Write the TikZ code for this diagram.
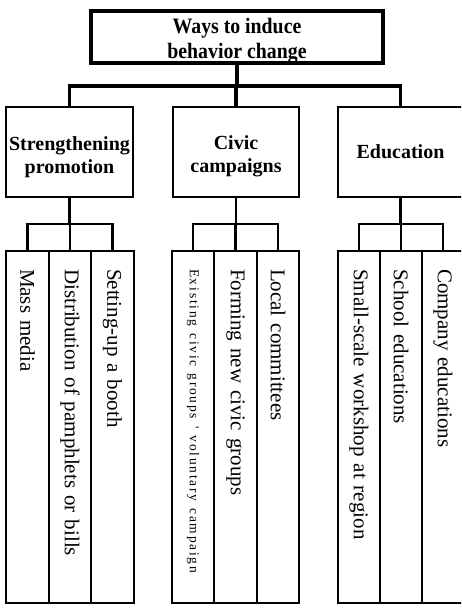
\documentclass[tikz,border=0pt]{standalone}
\usepackage{fontspec}
\setmainfont{Liberation Serif}
\newfontfamily\titlefont[FakeStretch=0.9]{Liberation Serif}
\newfontfamily\spacedfont[LetterSpace=13]{Liberation Serif}
\begin{document}
\begin{tikzpicture}[x=1pt,y=-1pt,
  topbox/.style={draw,line width=3.5pt,minimum width=292pt,minimum height=50pt,inner sep=0pt,align=center,
    font=\titlefont\bfseries\fontsize{22}{25}\selectfont},
  catbox/.style={draw,line width=2.8pt,minimum height=90pt,inner sep=0pt,align=center,
    font=\bfseries\fontsize{20}{22.5}\selectfont},
  leafbox/.style={draw,line width=2.2pt,rotate=-90,minimum width=352pt,minimum height=#1,
    inner xsep=18pt,inner ysep=0pt,text width=316pt,align=left,
    font=\fontsize{21}{24}\selectfont},
  conn/.style={line width=3.2pt},
  lconn/.style={line width=2.8pt}]
\clip (0,0) rectangle (461,611);
\fill[white] (0,0) rectangle (461,611);

\node[topbox] (top) at (237,37) {\rule{0pt}{22pt}Ways to induce\\behavior change};

\node[catbox,minimum width=127pt] (s) at (69.5,152) {\rule{0pt}{24pt}Strengthening\\promotion};
\node[catbox,minimum width=126pt] (c) at (236,152) {\rule{0pt}{22pt}Civic\\campaigns};
\node[catbox,minimum width=125pt] (e) at (400.5,152) {Education};

\coordinate (bar) at (0,86);
\draw[conn] (top.south) -- (top.south |- bar);
\draw[conn] (s.north) -- (s.north |- bar) -- (e.north |- bar) -- (e.north);
\draw[conn] (c.north) -- (c.north |- bar);

% leaves: strengthening
\node[leafbox=43pt] (s1) at (27.5,427) {Mass media};
\node[leafbox=42pt] (s2) at (70,427) {Distribution of pamphlets or bills};
\node[leafbox=43pt] (s3) at (112.5,427) {Setting-up a booth};
% leaves: civic
\node[leafbox=42pt] (c1) at (193,427) {\spacedfont\fontsize{13.5}{15}\selectfont Existing civic groups ' voluntary campaign};
\node[leafbox=43pt] (c2) at (235.5,427) {Forming new civic groups};
\node[leafbox=42pt] (c3) at (278,427) {Local committees};
% leaves: education
\node[leafbox=42pt] (e1) at (359,427) {Small-scale workshop at region};
\node[leafbox=42pt] (e2) at (401,427) {School educations};
\node[leafbox=42pt] (e3) at (443,427) {Company educations};

\coordinate (lbar) at (0,224);
\foreach \p/\a/\b/\m in {s/s1/s3/s2, c/c1/c3/c2, e/e1/e3/e2}{
  \draw[lconn] (\p.south) -- (\p.south |- lbar);
  \draw[lconn] (\a.west) -- (\a.west |- lbar) -- (\b.west |- lbar) -- (\b.west);
  \draw[lconn] (\m.west) -- (\m.west |- lbar);
}
\end{tikzpicture}
\end{document}
